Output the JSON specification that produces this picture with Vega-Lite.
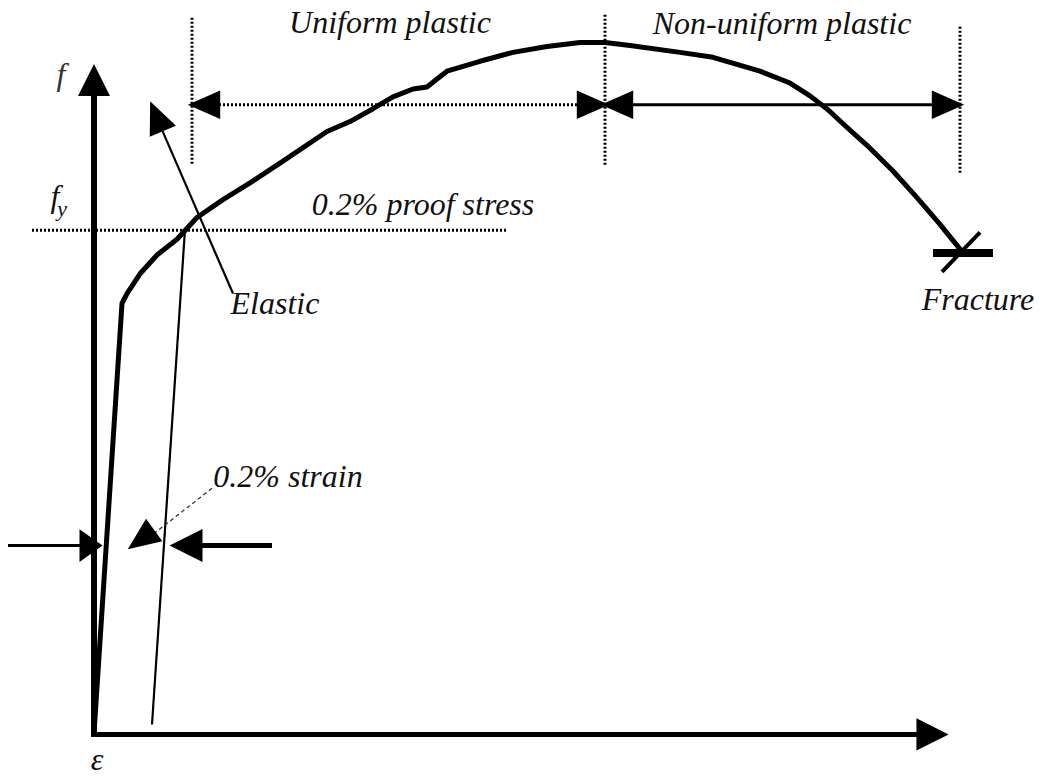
{
  "$schema": "https://vega.github.io/schema/vega-lite/v6.json",
  "width": 1040,
  "height": 776,
  "padding": 0,
  "autosize": {"type": "fit", "contains": "padding"},
  "background": "white",
  "config": {"view": {"stroke": null}},
  "datasets": {
    "curve": [
      {"i": 0, "e": 0, "f": 0},
      {"i": 1, "e": 28, "f": 435},
      {"i": 2, "e": 33, "f": 445},
      {"i": 3, "e": 46, "f": 465},
      {"i": 4, "e": 63, "f": 484},
      {"i": 5, "e": 83, "f": 500},
      {"i": 6, "e": 103, "f": 522},
      {"i": 7, "e": 129, "f": 540},
      {"i": 8, "e": 156, "f": 557},
      {"i": 9, "e": 189, "f": 579},
      {"i": 10, "e": 233, "f": 609},
      {"i": 11, "e": 256, "f": 619},
      {"i": 12, "e": 279, "f": 632},
      {"i": 13, "e": 299, "f": 644},
      {"i": 14, "e": 319, "f": 652},
      {"i": 15, "e": 333, "f": 654},
      {"i": 16, "e": 343, "f": 662},
      {"i": 17, "e": 353, "f": 670},
      {"i": 18, "e": 386, "f": 680},
      {"i": 19, "e": 419, "f": 689},
      {"i": 20, "e": 453, "f": 695},
      {"i": 21, "e": 486, "f": 699},
      {"i": 22, "e": 511, "f": 699},
      {"i": 23, "e": 536, "f": 696},
      {"i": 24, "e": 586, "f": 689},
      {"i": 25, "e": 619, "f": 684},
      {"i": 26, "e": 666, "f": 670},
      {"i": 27, "e": 696, "f": 658},
      {"i": 28, "e": 716, "f": 645},
      {"i": 29, "e": 734, "f": 631},
      {"i": 30, "e": 752, "f": 614},
      {"i": 31, "e": 773, "f": 595},
      {"i": 32, "e": 799, "f": 569},
      {"i": 33, "e": 823, "f": 542},
      {"i": 34, "e": 846, "f": 515},
      {"i": 35, "e": 866, "f": 490}
    ],
    "segments": [
      {"g": "axisY", "e": 0, "f": 0, "e2": 0, "f2": 645},
      {"g": "axisX", "e": -3, "f": -1, "e2": 826, "f2": -1},
      {"g": "thin", "e": 139, "f": 445, "e2": 64, "f2": 620},
      {"g": "thin", "e": 91, "f": 510, "e2": 58, "f2": 9},
      {"g": "mid", "e": 534, "f": 636, "e2": 846, "f2": 636},
      {"g": "mid", "e": -86, "f": 190, "e2": -9, "f2": 190},
      {"g": "thick", "e": 104, "f": 190, "e2": 178, "f2": 190},
      {"g": "dot", "e": 98, "f": 724, "e2": 98, "f2": 575},
      {"g": "dot", "e": 511, "f": 727, "e2": 511, "f2": 575},
      {"g": "dot", "e": 866, "f": 715, "e2": 866, "f2": 567},
      {"g": "dot", "e": 121, "f": 636, "e2": 488, "f2": 636},
      {"g": "dot", "e": -62, "f": 509, "e2": 413, "f2": 509},
      {"g": "dash", "e": 118, "f": 248, "e2": 56, "f2": 199},
      {"g": "bar", "e": 839, "f": 486, "e2": 899, "f2": 486},
      {"g": "slash", "e": 886, "f": 507, "e2": 848, "f2": 467}
    ],
    "heads": [
      {"kind": "axisY", "e": 0, "f": 661, "dir": 0},
      {"kind": "axisX", "e": 838.5, "f": -1, "dir": 90},
      {"kind": "span", "e": 110, "f": 636, "dir": 270},
      {"kind": "span", "e": 499, "f": 636, "dir": 90},
      {"kind": "span", "e": 523, "f": 636, "dir": 270},
      {"kind": "span", "e": 854, "f": 636, "dir": 90},
      {"kind": "elastic", "e": 62.5, "f": 624.4, "dir": 337},
      {"kind": "strain", "e": 47, "f": 196, "dir": 234},
      {"kind": "inL", "e": -3, "f": 190, "dir": 90},
      {"kind": "inR", "e": 92, "f": 190, "dir": 270}
    ],
    "labels": [
      {"t": "Uniform plastic", "e": 296, "f": 709, "k": "big"},
      {"t": "Non-uniform plastic", "e": 688, "f": 708, "k": "big"},
      {"t": "0.2% proof stress", "e": 329, "f": 524, "k": "big"},
      {"t": "Elastic", "e": 181, "f": 424, "k": "big"},
      {"t": "0.2% strain", "e": 194, "f": 249, "k": "big"},
      {"t": "Fracture", "e": 884, "f": 428, "k": "big"},
      {"t": "f", "e": -33, "f": 656, "k": "sym"},
      {"t": "f", "e": -39, "f": 533, "k": "big"},
      {"t": "y", "e": -32, "f": 523, "k": "sub"},
      {"t": "ε", "e": 3, "f": -37, "k": "big"}
    ]
  },
  "resolve": {"scale": {"size": "independent", "shape": "independent"}},
  "layer": [
    {
      "data": {"name": "segments"},
      "transform": [{"filter": "datum.g === 'axisY'"}],
      "mark": {"type": "rule", "color": "black", "strokeWidth": 6},
      "encoding": {
        "x": {"field": "e", "type": "quantitative", "scale": {"domain": [-94, 946], "nice": false, "zero": false}, "axis": null},
        "y": {"field": "f", "type": "quantitative", "scale": {"domain": [-34, 742], "nice": false, "zero": false}, "axis": null},
        "x2": {"field": "e2"},
        "y2": {"field": "f2"}
      }
    },
    {
      "data": {"name": "segments"},
      "transform": [{"filter": "datum.g === 'axisX'"}],
      "mark": {"type": "rule", "color": "black", "strokeWidth": 5},
      "encoding": {
        "x": {"field": "e", "type": "quantitative", "axis": null},
        "y": {"field": "f", "type": "quantitative", "axis": null},
        "x2": {"field": "e2"},
        "y2": {"field": "f2"}
      }
    },
    {
      "data": {"name": "segments"},
      "transform": [{"filter": "datum.g === 'thin'"}],
      "mark": {"type": "rule", "color": "black", "strokeWidth": 2.2},
      "encoding": {
        "x": {"field": "e", "type": "quantitative", "axis": null},
        "y": {"field": "f", "type": "quantitative", "axis": null},
        "x2": {"field": "e2"},
        "y2": {"field": "f2"}
      }
    },
    {
      "data": {"name": "segments"},
      "transform": [{"filter": "datum.g === 'mid'"}],
      "mark": {"type": "rule", "color": "black", "strokeWidth": 3},
      "encoding": {
        "x": {"field": "e", "type": "quantitative", "axis": null},
        "y": {"field": "f", "type": "quantitative", "axis": null},
        "x2": {"field": "e2"},
        "y2": {"field": "f2"}
      }
    },
    {
      "data": {"name": "segments"},
      "transform": [{"filter": "datum.g === 'thick'"}],
      "mark": {"type": "rule", "color": "black", "strokeWidth": 5},
      "encoding": {
        "x": {"field": "e", "type": "quantitative", "axis": null},
        "y": {"field": "f", "type": "quantitative", "axis": null},
        "x2": {"field": "e2"},
        "y2": {"field": "f2"}
      }
    },
    {
      "data": {"name": "segments"},
      "transform": [{"filter": "datum.g === 'dot'"}],
      "mark": {"type": "rule", "color": "black", "strokeWidth": 3, "strokeDash": [2, 2]},
      "encoding": {
        "x": {"field": "e", "type": "quantitative", "axis": null},
        "y": {"field": "f", "type": "quantitative", "axis": null},
        "x2": {"field": "e2"},
        "y2": {"field": "f2"}
      }
    },
    {
      "data": {"name": "segments"},
      "transform": [{"filter": "datum.g === 'dash'"}],
      "mark": {"type": "rule", "color": "#333", "strokeWidth": 1.3, "strokeDash": [4, 3]},
      "encoding": {
        "x": {"field": "e", "type": "quantitative", "axis": null},
        "y": {"field": "f", "type": "quantitative", "axis": null},
        "x2": {"field": "e2"},
        "y2": {"field": "f2"}
      }
    },
    {
      "data": {"name": "segments"},
      "transform": [{"filter": "datum.g === 'bar'"}],
      "mark": {"type": "rule", "color": "black", "strokeWidth": 8},
      "encoding": {
        "x": {"field": "e", "type": "quantitative", "axis": null},
        "y": {"field": "f", "type": "quantitative", "axis": null},
        "x2": {"field": "e2"},
        "y2": {"field": "f2"}
      }
    },
    {
      "data": {"name": "segments"},
      "transform": [{"filter": "datum.g === 'slash'"}],
      "mark": {"type": "rule", "color": "black", "strokeWidth": 4},
      "encoding": {
        "x": {"field": "e", "type": "quantitative", "axis": null},
        "y": {"field": "f", "type": "quantitative", "axis": null},
        "x2": {"field": "e2"},
        "y2": {"field": "f2"}
      }
    },
    {
      "data": {"name": "curve"},
      "mark": {"type": "line", "color": "black", "strokeWidth": 5, "strokeJoin": "round", "strokeCap": "round"},
      "encoding": {
        "x": {"field": "e", "type": "quantitative", "axis": null},
        "y": {"field": "f", "type": "quantitative", "axis": null},
        "order": {"field": "i", "type": "quantitative"}
      }
    },
    {
      "data": {"name": "heads"},
      "mark": {"type": "point", "filled": true, "color": "black", "opacity": 1, "strokeWidth": 0},
      "encoding": {
        "x": {"field": "e", "type": "quantitative", "axis": null},
        "y": {"field": "f", "type": "quantitative", "axis": null},
        "shape": {
          "field": "kind", "type": "nominal", "legend": null,
          "scale": {
            "domain": ["axisY", "axisX", "span", "elastic", "strain", "inL", "inR"],
            "range": ["M0,-1L1,1L-1,1Z", "M0,-1L1,1L-1,1Z", "M0,-1L0.875,1L-0.875,1Z", "M0,-1L0.875,1L-0.875,1Z", "M0,-1L0.85,1L-0.85,1Z", "M0,-0.7L1,0.7L-1,0.7Z", "M0,-1L1,1L-1,1Z"]
          }
        },
        "size": {
          "field": "kind", "type": "nominal", "legend": null,
          "scale": {
            "domain": ["axisY", "axisX", "span", "elastic", "strain", "inL", "inR"],
            "range": [1024, 1089, 576, 529, 400, 676, 784]
          }
        },
        "angle": {"field": "dir", "type": "quantitative", "scale": {"domain": [0, 360], "range": [0, 360]}}
      }
    },
    {
      "data": {"name": "labels"},
      "transform": [{"filter": "datum.k === 'big'"}],
      "mark": {"type": "text", "font": "Times New Roman", "fontStyle": "italic", "fontSize": 32, "align": "center", "baseline": "alphabetic", "color": "#111"},
      "encoding": {
        "x": {"field": "e", "type": "quantitative", "axis": null},
        "y": {"field": "f", "type": "quantitative", "axis": null},
        "text": {"field": "t"}
      }
    },
    {
      "data": {"name": "labels"},
      "transform": [{"filter": "datum.k === 'sym'"}],
      "mark": {"type": "text", "font": "Times New Roman", "fontStyle": "italic", "fontSize": 32, "align": "center", "baseline": "alphabetic", "color": "#333"},
      "encoding": {
        "x": {"field": "e", "type": "quantitative", "axis": null},
        "y": {"field": "f", "type": "quantitative", "axis": null},
        "text": {"field": "t"}
      }
    },
    {
      "data": {"name": "labels"},
      "transform": [{"filter": "datum.k === 'sub'"}],
      "mark": {"type": "text", "font": "Times New Roman", "fontStyle": "italic", "fontSize": 22, "align": "center", "baseline": "alphabetic", "color": "#111"},
      "encoding": {
        "x": {"field": "e", "type": "quantitative", "axis": null},
        "y": {"field": "f", "type": "quantitative", "axis": null},
        "text": {"field": "t"}
      }
    }
  ]
}
